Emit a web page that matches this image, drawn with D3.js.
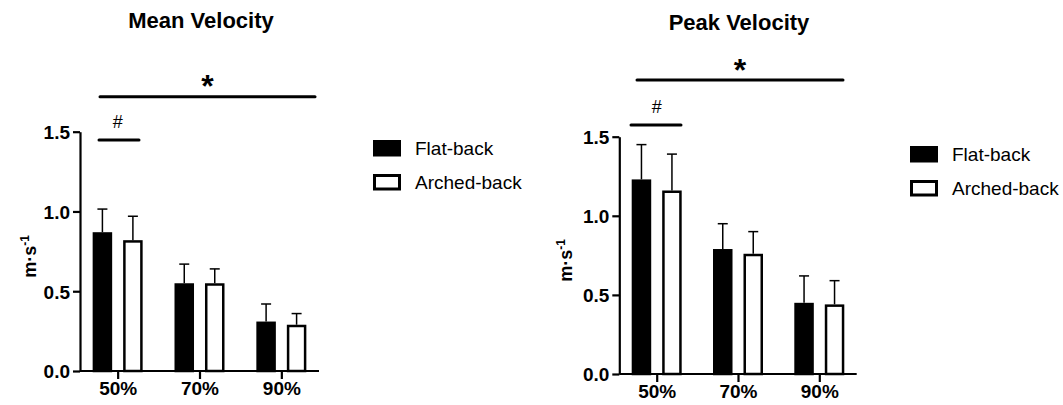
<!DOCTYPE html>
<html>
<head>
<meta charset="utf-8">
<script src="https://cdn.jsdelivr.net/npm/d3@7"></script>
<style>
  body { margin: 0; background: #fff; }
  text { font-family: "Liberation Sans", Arial, sans-serif; fill: #000; }
</style>
</head>
<body>
<div id="container"></div>
<script>
const width = 1063;
const height = 405;

const categories = ["50%", "70%", "90%"];
const series = ["Flat-back", "Arched-back"];
const yTicks = [0, 0.5, 1.0, 1.5];

// mean velocity (m/s), mean and SD
const meanFlat = [0.87, 0.55, 0.31];
const meanFlatSd = [0.145, 0.12, 0.11];
const meanArched = [0.82, 0.55, 0.29];
const meanArchedSd = [0.15, 0.09, 0.07];

// peak velocity
const peakFlat = [1.23, 0.79, 0.45];
const peakFlatSd = [0.22, 0.16, 0.17];
const peakArched = [1.16, 0.76, 0.44];
const peakArchedSd = [0.23, 0.14, 0.15];

const panels = [
    {
        title: "Mean Velocity", vals: [meanFlat, meanArched], sds: [meanFlatSd, meanArchedSd],
        left: 80, right: 319, top: 131.7, bottom: 371, titleX: 201, titleY: 28,
        labelX: 36, starY: 97, starLine: [100, 315], starLineY: 96.7,
        hashY: 128, hashLine: [99, 139], hashLineY: 140,
        legendX: 373, legendY: 140
    },
    {
        title: "Peak Velocity", vals: [peakFlat, peakArched], sds: [peakFlatSd, peakArchedSd],
        left: 619.3, right: 856.7, top: 136.7, bottom: 374, titleX: 739, titleY: 30,
        labelX: 572, starY: 81, starLine: [637, 843], starLineY: 80,
        hashY: 113, hashLine: [631, 681], hashLineY: 125,
        legendX: 910, legendY: 146
    }
];

const svg = d3.select("#container")
    .append("svg")
    .attr("width", width)
    .attr("height", height);

panels.forEach((p) => {
    const g = svg.append("g");
    const x = d3.scalePoint().domain(categories).range([p.left, p.right]).padding(0.46);
    const sub = d3.scaleBand().domain(series).range([-25, 25]).paddingInner(0.36);
    const y = d3.scaleLinear().domain([0, 1.5]).range([p.bottom, p.top]);

    // bars
    series.forEach((s, si) => {
        const rows = categories.map((c, ci) => ({ c: c, v: p.vals[si][ci], sd: p.sds[si][ci] }));
        const bx = (d) => x(d.c) + sub(s) + sub.bandwidth() / 2;
        g.append("g")
            .selectAll("line.err")
            .data(rows)
            .enter()
            .append("line")
            .attr("x1", bx).attr("x2", bx)
            .attr("y1", (d) => y(d.v)).attr("y2", (d) => y(d.v + d.sd))
            .style("stroke", "#000").style("stroke-width", 1.5);
        g.append("g")
            .selectAll("line.cap")
            .data(rows)
            .enter()
            .append("line")
            .attr("x1", (d) => bx(d) - 5).attr("x2", (d) => bx(d) + 5)
            .attr("y1", (d) => y(d.v + d.sd)).attr("y2", (d) => y(d.v + d.sd))
            .style("stroke", "#000").style("stroke-width", 1.5);
        g.append("g")
            .selectAll("rect")
            .data(rows)
            .enter()
            .append("rect")
            .attr("x", (d) => x(d.c) + sub(s) + 1.25)
            .attr("width", sub.bandwidth() - 2.5)
            .attr("y", (d) => y(d.v) + 1.25)
            .attr("height", (d) => y(0) - y(d.v) - 1.25)
            .style("fill", si === 0 ? "#000" : "#fff")
            .style("stroke", "#000")
            .style("stroke-width", 2.5);
    });

    // axes
    const yAxis = g.append("g")
        .attr("transform", `translate(${p.left},0)`)
        .call(d3.axisLeft(y).tickValues(yTicks).tickFormat(d3.format(".1f")).tickSize(7).tickSizeOuter(0));
    const xAxis = g.append("g")
        .attr("transform", `translate(0,${p.bottom})`)
        .call(d3.axisBottom(x).tickSize(8).tickSizeOuter(0));
    [yAxis, xAxis].forEach((a) => {
        a.select(".domain").style("stroke-width", 2.2);
        a.selectAll(".tick line").style("stroke-width", 2.2);
        a.selectAll(".tick text")
            .style("font-size", "19px").style("font-weight", "bold")
            .style("font-family", "'Liberation Sans', Arial, sans-serif").attr("fill", "#000");
    });
    yAxis.selectAll(".tick text").attr("x", -10).attr("dy", "0.36em");
    xAxis.selectAll(".tick text").attr("y", 11);
    // x domain runs from the y axis
    xAxis.select(".domain").attr("d", `M${p.left},0H${p.right}`);

    // y label
    const lab = g.append("text")
        .attr("transform", `translate(${p.labelX},${(p.top + p.bottom) / 2 + 5}) rotate(-90)`)
        .attr("text-anchor", "middle")
        .style("font-size", "18px").style("font-weight", "bold");
    lab.append("tspan").text("m·s");
    lab.append("tspan").attr("baseline-shift", "super").style("font-size", "12px").text("-1");

    // title
    g.append("text")
        .attr("x", p.titleX).attr("y", p.titleY)
        .attr("text-anchor", "middle")
        .style("font-size", "22px").style("font-weight", "bold")
        .text(p.title);

    // significance marks
    g.append("line")
        .attr("x1", p.starLine[0]).attr("x2", p.starLine[1])
        .attr("y1", p.starLineY).attr("y2", p.starLineY)
        .style("stroke", "#000").style("stroke-width", 3).style("stroke-linecap", "round");
    g.append("text")
        .attr("x", (p.starLine[0] + p.starLine[1]) / 2).attr("y", p.starY)
        .attr("text-anchor", "middle")
        .style("font-size", "32px").style("font-weight", "bold")
        .text("*");
    g.append("line")
        .attr("x1", p.hashLine[0]).attr("x2", p.hashLine[1])
        .attr("y1", p.hashLineY).attr("y2", p.hashLineY)
        .style("stroke", "#000").style("stroke-width", 3).style("stroke-linecap", "round");
    g.append("text")
        .attr("x", x(categories[0])).attr("y", p.hashY)
        .attr("text-anchor", "middle")
        .attr("fill", "#000")
        .style("font-size", "18px")
        .text("#");

    // legend
    const leg = g.append("g").attr("transform", `translate(${p.legendX},${p.legendY})`);
    series.forEach((s, si) => {
        leg.append("rect")
            .attr("x", 1.5).attr("y", si * 34 + 1.5)
            .attr("width", 25).attr("height", 13.5)
            .style("fill", si === 0 ? "#000" : "#fff")
            .style("stroke", "#000").style("stroke-width", 3);
        leg.append("text")
            .attr("x", 42).attr("y", si * 34 + 8)
            .attr("dy", "0.36em")
            .style("font-size", "19px")
            .text(s);
    });
});
</script>
</body>
</html>
